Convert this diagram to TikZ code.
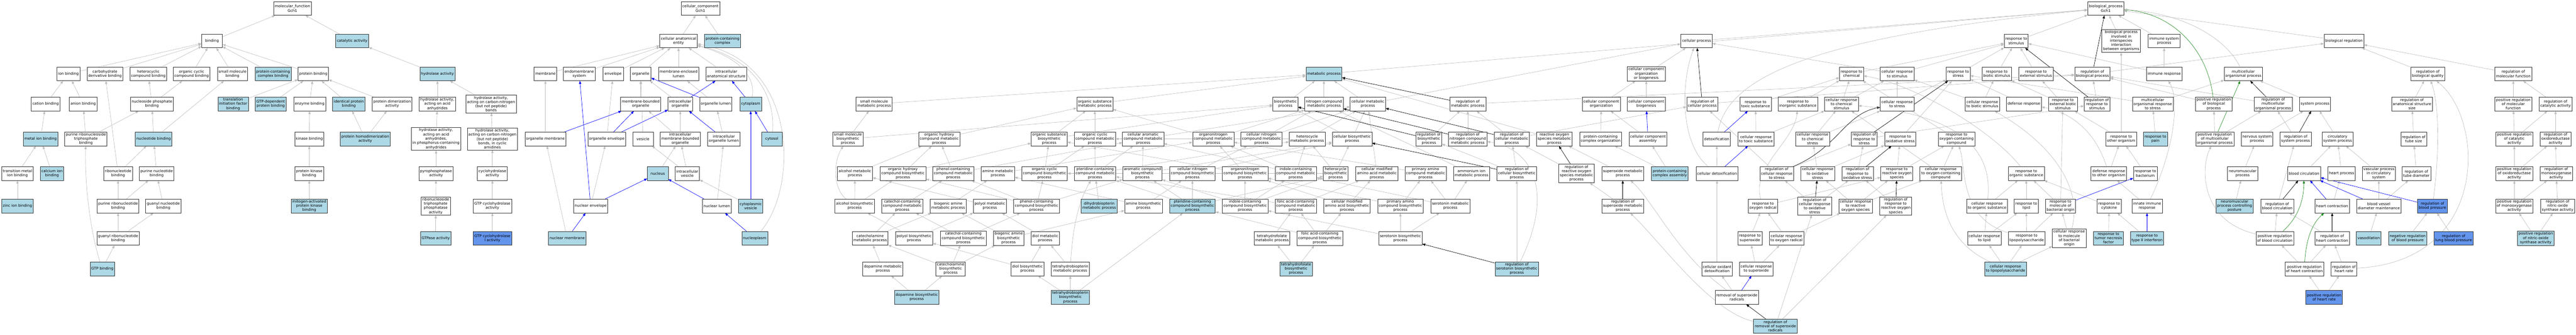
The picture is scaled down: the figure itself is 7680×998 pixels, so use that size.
\documentclass[tikz,border=0pt]{standalone}
\usepackage{fontspec}
\setmainfont{DejaVu Sans}
\usetikzlibrary{arrows.meta,backgrounds}
\definecolor{golight}{RGB}{173,216,230}
\definecolor{godark}{RGB}{100,149,237}
\definecolor{goedge}{RGB}{190,190,190}
\definecolor{gogreen}{RGB}{34,139,34}
\newcommand{\gofont}{\fontsize{11}{12.7}\selectfont}
\tikzset{
  goterm/.style={draw=black!80,fill=white,line width=0.9pt,minimum width=62pt,minimum height=41pt,inner xsep=3.5pt,inner ysep=3pt,align=center,font=\gofont},
  gohit/.style={goterm,fill=golight},
  gokey/.style={goterm,fill=godark},
  isa/.style={draw=goedge,line width=1pt,-{Triangle[length=9pt,width=7pt]}},
  partof/.style={isa,draw=blue},
  regl/.style={isa,draw=black},
  posreg/.style={isa,draw=gogreen}
}
\begin{document}
\begin{tikzpicture}[x=1pt,y=-1pt]
\useasboundingbox (0,0) rectangle (7680,998);
% molecular function
\node[goterm] (mfroot) at (872,25) {molecular\_function\\Gch1};
\node[goterm] (binding) at (632,122) {binding};
\node[gohit] (catalytic) at (1050,122) {catalytic activity};
\node[goterm] (ionbind) at (204,220) {ion binding};
\node[goterm] (carbder) at (313,220) {carbohydrate\\derivative binding};
\node[goterm] (hetcyc) at (442,220) {heterocyclic\\compound binding};
\node[goterm] (orgcyc) at (571,220) {organic cyclic\\compound binding};
\node[goterm] (smallmol) at (693,220) {small molecule\\binding};
\node[gohit] (pccbind) at (814,220) {protein-containing\\complex binding};
\node[goterm] (protbind) at (934,220) {protein binding};
\node[gohit] (hydrolase) at (1304,220) {hydrolase activity};
\node[goterm] (cationb) at (136,310) {cation binding};
\node[goterm] (anionb) at (248,310) {anion binding};
\node[goterm] (nucphos) at (453,310) {nucleoside phosphate\\binding};
\node[gohit] (tifbind) at (695,310) {translation\\initiation factor\\binding};
\node[gohit] (gtpdep) at (807,310) {GTP-dependent\\protein binding};
\node[goterm] (enzbind) at (923,310) {enzyme binding};
\node[gohit] (identb) at (1040,310) {identical protein\\binding};
\node[goterm] (dimer) at (1169,310) {protein dimerization\\activity};
\node[goterm] (hydanh) at (1304,310) {hydrolase activity,\\acting on acid\\anhydrides};
\node[goterm] (hydcn) at (1464,310) {hydrolase activity,\\acting on carbon-nitrogen\\(but not peptide)\\bonds};
\node[gohit] (metalion) at (121,414) {metal ion binding};
\node[goterm] (prtbind) at (256,414) {purine ribonucleoside\\triphosphate\\binding};
\node[gohit] (nucleotide) at (458,414) {nucleotide binding};
\node[goterm] (kinase) at (922,414) {kinase binding};
\node[gohit] (homodimer) at (1089,414) {protein homodimerization\\activity};
\node[goterm] (hydphos) at (1300,414) {hydrolase activity,\\acting on acid\\anhydrides,\\in phosphorus-containing\\anhydrides};
\node[goterm] (hydcyc) at (1468,414) {hydrolase activity,\\acting on carbon-nitrogen\\(but not peptide)\\bonds, in cyclic\\amidines};
\node[goterm] (transmet) at (52,517) {transition metal\\ion binding};
\node[gohit] (calcium) at (155,517) {calcium ion\\binding};
\node[goterm] (ribonuc) at (352,517) {ribonucleotide\\binding};
\node[goterm] (purnuc) at (467,517) {purine nucleotide\\binding};
\node[goterm] (protkin) at (922,517) {protein kinase\\binding};
\node[goterm] (pyrophos) at (1300,517) {pyrophosphatase\\activity};
\node[goterm] (cyclohyd) at (1468,517) {cyclohydrolase\\activity};
\node[gohit] (zinc) at (52,614) {zinc ion binding};
\node[goterm] (purribo) at (352,614) {purine ribonucleotide\\binding};
\node[goterm] (guanyl) at (487,614) {guanyl nucleotide\\binding};
\node[gohit] (mapk) at (922,614) {mitogen-activated\\protein kinase\\binding};
\node[goterm] (rtpase) at (1299,614) {ribonucleoside\\triphosphate\\phosphatase\\activity};
\node[goterm] (gtpch) at (1468,614) {GTP cyclohydrolase\\activity};
\node[goterm] (guanylribo) at (352,710) {guanyl ribonucleotide\\binding};
\node[gohit] (gtpase) at (1299,710) {GTPase activity};
\node[gokey] (gtpchI) at (1468,710) {GTP cyclohydrolase\\I activity};
\node[gohit] (gtpbind) at (305,801) {GTP binding};
% cellular component
\node[goterm] (ccroot) at (2088,25) {cellular\_component\\Gch1};
\node[goterm] (cae) at (2023,122) {cellular anatomical\\entity};
\node[gohit] (pcc) at (2154,122) {protein-containing\\complex};
\node[goterm] (membrane) at (1626,220) {membrane};
\node[goterm] (endomem) at (1727,220) {endomembrane\\system};
\node[goterm] (envelope) at (1828,220) {envelope};
\node[goterm] (organelle) at (1910,220) {organelle};
\node[goterm] (melumen) at (2023,220) {membrane-enclosed\\lumen};
\node[goterm] (ias) at (2165,220) {intracellular\\anatomical structure};
\node[goterm] (mbo) at (1910,310) {membrane-bounded\\organelle};
\node[goterm] (intorg) at (2028,310) {intracellular\\organelle};
\node[goterm] (orglumen) at (2134,310) {organelle lumen};
\node[gohit] (cytoplasm) at (2238,310) {cytoplasm};
\node[goterm] (orgmem) at (1626,414) {organelle membrane};
\node[goterm] (orgenv) at (1809,414) {organelle envelope};
\node[goterm] (vesicle) at (1917,414) {vesicle};
\node[goterm] (imbo) at (2028,414) {intracellular\\membrane-bounded\\organelle};
\node[goterm] (iol) at (2158,414) {intracellular\\organelle lumen};
\node[gohit] (cytosol) at (2301,414) {cytosol};
\node[gohit] (nucleus) at (1961,517) {nucleus};
\node[goterm] (intves) at (2049,517) {intracellular\\vesicle};
\node[goterm] (nucenv) at (1761,614) {nuclear envelope};
\node[goterm] (nuclumen) at (2137,614) {nuclear lumen};
\node[gohit] (cytves) at (2238,614) {cytoplasmic\\vesicle};
\node[gohit] (nucmem) at (1691,710) {nuclear membrane};
\node[gohit] (nucleoplasm) at (2250,710) {nucleoplasm};
% biological process
\node[goterm] (bproot) at (6278,25) {biological\_process\\Gch1};
\node[goterm] (cellproc) at (5058,122) {cellular process};
\node[goterm] (respstim) at (6011,122) {response to\\stimulus};
\node[goterm] (bpinter) at (6324,122) {biological process\\involved in\\interspecies\\interaction\\between organisms};
\node[goterm] (immsys) at (6452,122) {immune system\\process};
\node[goterm] (bioreg) at (6988,122) {biological regulation};
\node[gohit] (metab) at (3947,220) {metabolic process};
\node[goterm] (ccob) at (4908,220) {cellular component\\organization\\or biogenesis};
\node[goterm] (respchem) at (5520,220) {response to\\chemical};
\node[goterm] (cellrespstim) at (5656,220) {cellular response\\to stimulus};
\node[goterm] (respstress) at (5838,220) {response to\\stress};
\node[goterm] (respbiotic) at (5953,220) {response to\\biotic stimulus};
\node[goterm] (respext) at (6070,220) {response to\\external stimulus};
\node[goterm] (regbp) at (6238,220) {regulation of\\biological process};
\node[goterm] (immresp) at (6452,220) {immune response};
\node[goterm] (multiorg) at (6688,220) {multicellular\\organismal process};
\node[goterm] (regbq) at (7238,220) {regulation of\\biological quality};
\node[goterm] (regmf) at (7493,220) {regulation of\\molecular function};
\node[goterm] (smmetab) at (2606,310) {small molecule\\metabolic process};
\node[goterm] (orgsubmetab) at (3264,310) {organic substance\\metabolic process};
\node[goterm] (biosyn) at (3832,310) {biosynthetic\\process};
\node[goterm] (nitmetab) at (3947,310) {nitrogen compound\\metabolic process};
\node[goterm] (cellmetab) at (4078,310) {cellular metabolic\\process};
\node[goterm] (regmetab) at (4376,310) {regulation of\\metabolic process};
\node[goterm] (ccorg) at (4774,310) {cellular component\\organization};
\node[goterm] (ccbio) at (4908,310) {cellular component\\biogenesis};
\node[goterm] (regcellproc) at (5075,310) {regulation of\\cellular process};
\node[goterm] (resptox) at (5234,310) {response to\\toxic substance};
\node[goterm] (respinorg) at (5360,310) {response to\\inorganic substance};
\node[goterm] (cellrespchem) at (5490,310) {cellular response\\to chemical\\stimulus};
\node[goterm] (cellrespstress) at (5656,310) {cellular response\\to stress};
\node[goterm] (cellrespbiotic) at (5910,310) {cellular response\\to biotic stimulus};
\node[goterm] (defense) at (6034,310) {defense response};
\node[goterm] (respextbiotic) at (6150,310) {response to\\external biotic\\stimulus};
\node[goterm] (regrespstim) at (6252,310) {regulation of\\response to\\stimulus};
\node[goterm] (multistress) at (6418,310) {multicellular\\organismal response\\to stress};
\node[goterm] (posregbp) at (6600,310) {positive regulation\\of biological\\process};
\node[goterm] (regmulti) at (6777,310) {regulation of\\multicellular\\organismal process};
\node[goterm] (sysproc) at (6902,310) {system process};
\node[goterm] (reganat) at (7191,310) {regulation of\\anatomical structure\\size};
\node[goterm] (posregmf) at (7493,310) {positive regulation\\of molecular\\function};
\node[goterm] (regcat) at (7619,310) {regulation of\\catalytic activity};
\node[goterm] (smbiosyn) at (2528,414) {small molecule\\biosynthetic\\process};
\node[goterm] (ohcmetab) at (2800,414) {organic hydroxy\\compound metabolic\\process};
\node[goterm] (orgsubbiosyn) at (3128,414) {organic substance\\biosynthetic\\process};
\node[goterm] (orgcycmetab) at (3264,414) {organic cyclic\\compound metabolic\\process};
\node[goterm] (cellarom) at (3408,414) {cellular aromatic\\compound metabolic\\process};
\node[goterm] (orgnitmetab) at (3617,414) {organonitrogen\\compound metabolic\\process};
\node[goterm] (cellnitmetab) at (3761,414) {cellular nitrogen\\compound metabolic\\process};
\node[goterm] (hetmetab) at (3897,414) {heterocycle\\metabolic process};
\node[goterm] (cellbiosyn) at (4031,414) {cellular biosynthetic\\process};
\node[goterm] (regbiosyn) at (4260,414) {regulation of\\biosynthetic\\process};
\node[goterm] (regnitmetab) at (4376,414) {regulation of\\nitrogen compound\\metabolic process};
\node[goterm] (regcellmetab) at (4507,414) {regulation of\\cellular metabolic\\process};
\node[goterm] (rosmetab) at (4634,414) {reactive oxygen\\species metabolic\\process};
\node[goterm] (pccorg) at (4772,414) {protein-containing\\complex organization};
\node[goterm] (ccassem) at (4913,414) {cellular component\\assembly};
\node[goterm] (detox) at (5118,414) {detoxification};
\node[goterm] (cellresptox) at (5235,414) {cellular response\\to toxic substance};
\node[goterm] (cellrespchemstress) at (5404,414) {cellular response\\to chemical\\stress};
\node[goterm] (regrespstress) at (5558,414) {regulation of\\response to\\stress};
\node[goterm] (respoxstress) at (5665,414) {response to\\oxidative stress};
\node[goterm] (respoxy) at (5833,414) {response to\\oxygen-containing\\compound};
\node[goterm] (respother) at (6324,414) {response to\\other organism};
\node[gohit] (resppain) at (6426,414) {response to\\pain};
\node[goterm] (posregmulti) at (6603,414) {positive regulation\\of multicellular\\organismal process};
\node[goterm] (nervsys) at (6729,414) {nervous system\\process};
\node[goterm] (regsys) at (6844,414) {regulation of\\system process};
\node[goterm] (circsys) at (6969,414) {circulatory\\system process};
\node[goterm] (regtube) at (7196,414) {regulation of\\tube size};
\node[goterm] (posregcat) at (7496,414) {positive regulation\\of catalytic\\activity};
\node[goterm] (regoxid) at (7619,414) {regulation of\\oxidoreductase\\activity};
\node[goterm] (alcmetab) at (2549,517) {alcohol metabolic\\process};
\node[goterm] (ohcbiosyn) at (2692,517) {organic hydroxy\\compound biosynthetic\\process};
\node[goterm] (phenmetab) at (2842,517) {phenol-containing\\compound metabolic\\process};
\node[goterm] (aminemetab) at (2975,517) {amine metabolic\\process};
\node[goterm] (orgcycbiosyn) at (3114,517) {organic cyclic\\compound biosynthetic\\process};
\node[goterm] (ptermetab) at (3265,517) {pteridine-containing\\compound metabolic\\process};
\node[goterm] (arombiosyn) at (3406,517) {aromatic compound\\biosynthetic\\process};
\node[goterm] (cellnitbiosyn) at (3555,517) {cellular nitrogen\\compound biosynthetic\\process};
\node[goterm] (orgnitbiosyn) at (3712,517) {organonitrogen\\compound biosynthetic\\process};
\node[goterm] (indolemetab) at (3863,517) {indole-containing\\compound metabolic\\process};
\node[goterm] (hetbiosyn) at (3982,517) {heterocycle\\biosynthetic\\process};
\node[goterm] (cmaametab) at (4105,517) {cellular modified\\amino acid metabolic\\process};
\node[goterm] (primmetab) at (4250,517) {primary amino\\compound metabolic\\process};
\node[goterm] (ammonium) at (4387,517) {ammonium ion\\metabolic process};
\node[goterm] (regcellbiosyn) at (4522,517) {regulation of\\cellular biosynthetic\\process};
\node[goterm] (regros) at (4700,517) {regulation of\\reactive oxygen\\species metabolic\\process};
\node[goterm] (superoxmetab) at (4838,517) {superoxide metabolic\\process};
\node[gohit] (pccassem) at (4978,517) {protein-containing\\complex assembly};
\node[goterm] (celldetox) at (5119,517) {cellular detoxification};
\node[goterm] (regcellrespstress) at (5297,517) {regulation of\\cellular response\\to stress};
\node[goterm] (cellrespoxstress) at (5419,517) {cellular response\\to oxidative\\stress};
\node[goterm] (regrespoxstress) at (5538,517) {regulation of\\response to\\oxidative stress};
\node[goterm] (respros) at (5655,517) {response to\\reactive oxygen\\species};
\node[goterm] (cellrespoxy) at (5786,517) {cellular response\\to oxygen-containing\\compound};
\node[goterm] (resporg) at (6041,517) {response to\\organic substance};
\node[goterm] (defother) at (6287,517) {defense response\\to other organism};
\node[goterm] (respbact) at (6396,517) {response to\\bacterium};
\node[goterm] (neuromusc) at (6686,517) {neuromuscular\\process};
\node[goterm] (bloodcirc) at (6869,517) {blood circulation};
\node[goterm] (heartproc) at (6981,517) {heart process};
\node[goterm] (vascproc) at (7092,517) {vascular process\\in circulatory\\system};
\node[goterm] (regtubediam) at (7204,517) {regulation of\\tube diameter};
\node[goterm] (posregoxid) at (7496,517) {positive regulation\\of oxidoreductase\\activity};
\node[goterm] (regmono) at (7621,517) {regulation of\\monooxygenase\\activity};
\node[goterm] (alcbiosyn) at (2548,614) {alcohol biosynthetic\\process};
\node[goterm] (catecholmetab) at (2690,614) {catechol-containing\\compound metabolic\\process};
\node[goterm] (bioaminemetab) at (2827,614) {biogenic amine\\metabolic process};
\node[goterm] (polyolmetab) at (2951,614) {polyol metabolic\\process};
\node[goterm] (phenbiosyn) at (3090,614) {phenol-containing\\compound biosynthetic\\process};
\node[gohit] (dhbmetab) at (3277,614) {dihydrobiopterin\\metabolic process};
\node[goterm] (aminebiosyn) at (3409,614) {amine biosynthetic\\process};
\node[gohit] (pterbiosyn) at (3555,614) {pteridine-containing\\compound biosynthetic\\process};
\node[goterm] (indolebiosyn) at (3712,614) {indole-containing\\compound biosynthetic\\process};
\node[goterm] (folicmetab) at (3863,614) {folic acid-containing\\compound metabolic\\process};
\node[goterm] (cmaabiosyn) at (4016,614) {cellular modified\\amino acid biosynthetic\\process};
\node[goterm] (primbiosyn) at (4175,614) {primary amino\\compound biosynthetic\\process};
\node[goterm] (serometab) at (4324,614) {serotonin metabolic\\process};
\node[goterm] (regsuperox) at (4838,614) {regulation of\\superoxide metabolic\\process};
\node[goterm] (respoxrad) at (5256,614) {response to\\oxygen radical};
\node[goterm] (regcellrespox) at (5410,614) {regulation of\\cellular response\\to oxidative\\stress};
\node[goterm] (cellrespros) at (5532,614) {cellular response\\to reactive\\oxygen species};
\node[goterm] (regrespros) at (5652,614) {regulation of\\response to\\reactive oxygen\\species};
\node[goterm] (cellresporg) at (5924,614) {cellular response\\to organic substance};
\node[goterm] (resplipid) at (6041,614) {response to\\lipid};
\node[goterm] (respmba) at (6143,614) {response to\\molecule of\\bacterial origin};
\node[goterm] (respcyto) at (6288,614) {response to\\cytokine};
\node[goterm] (innate) at (6401,614) {innate immune\\response};
\node[gohit] (neuroposture) at (6662,614) {neuromuscular\\process controlling\\posture};
\node[goterm] (regbloodcirc) at (6789,614) {regulation of\\blood circulation};
\node[goterm] (heartcontr) at (6953,614) {heart contraction};
\node[goterm] (bvdm) at (7092,614) {blood vessel\\diameter maintenance};
\node[gokey] (regbloodpress) at (7252,614) {regulation of\\blood pressure};
\node[goterm] (posregmono) at (7496,614) {positive regulation\\of monooxygenase\\activity};
\node[goterm] (regnos) at (7625,614) {regulation of\\nitric-oxide\\synthase activity};
\node[goterm] (catamine) at (2594,710) {catecholamine\\metabolic process};
\node[goterm] (polyolbiosyn) at (2725,710) {polyol biosynthetic\\process};
\node[goterm] (catecholbiosyn) at (2872,710) {catechol-containing\\compound biosynthetic\\process};
\node[goterm] (bioaminebiosyn) at (3007,710) {biogenic amine\\biosynthetic\\process};
\node[goterm] (diolmetab) at (3116,710) {diol metabolic\\process};
\node[goterm] (thfmetab) at (3792,710) {tetrahydrofolate\\metabolic process};
\node[goterm] (folicbiosyn) at (3935,710) {folic acid-containing\\compound biosynthetic\\process};
\node[goterm] (serobiosyn) at (4175,710) {serotonin biosynthetic\\process};
\node[goterm] (respsuperox) at (5217,710) {response to\\superoxide};
\node[goterm] (cellrespoxrad) at (5326,710) {cellular response\\to oxygen radical};
\node[goterm] (cellresplipid) at (5916,710) {cellular response\\to lipid};
\node[goterm] (resplps) at (6042,710) {response to\\lipopolysaccharide};
\node[goterm] (cellrespmba) at (6169,710) {cellular response\\to molecule\\of bacterial\\origin};
\node[gohit] (resptnf) at (6286,710) {response to\\tumor necrosis\\factor};
\node[gohit] (respifn) at (6401,710) {response to\\type II interferon};
\node[goterm] (posregbloodcirc) at (6782,710) {positive regulation\\of blood circulation};
\node[goterm] (regheartcontr) at (6953,710) {regulation of\\heart contraction};
\node[gohit] (vasodil) at (7062,710) {vasodilation};
\node[gohit] (negregbp) at (7178,710) {negative regulation\\of blood pressure};
\node[gokey] (reglungbp) at (7315,710) {regulation of\\lung blood pressure};
\node[gohit] (posregnos) at (7560,710) {positive regulation\\of nitric-oxide\\synthase activity};
\node[goterm] (dopmetab) at (2632,801) {dopamine metabolic\\process};
\node[goterm] (catbiosyn) at (2834,801) {catecholamine\\biosynthetic\\process};
\node[goterm] (diolbiosyn) at (3063,801) {diol biosynthetic\\process};
\node[goterm] (thbmetab) at (3191,801) {tetrahydrobiopterin\\metabolic process};
\node[gohit] (thfbiosyn) at (3864,801) {tetrahydrofolate\\biosynthetic\\process};
\node[gohit] (regserobiosyn) at (4522,801) {regulation of\\serotonin biosynthetic\\process};
\node[goterm] (celloxdetox) at (5119,801) {cellular oxidant\\detoxification};
\node[goterm] (cellrespsuperox) at (5236,801) {cellular response\\to superoxide};
\node[gohit] (cellresplps) at (5979,801) {cellular response\\to lipopolysaccharide};
\node[goterm] (posregheartcontr) at (6870,801) {positive regulation\\of heart contraction};
\node[goterm] (regheartrate) at (6988,801) {regulation of\\heart rate};
\node[gohit] (dopbiosyn) at (2733,886) {dopamine biosynthetic\\process};
\node[gohit] (thbbiosyn) at (3191,886) {tetrahydrobiopterin\\biosynthetic\\process};
\node[goterm] (removsuperox) at (5178,886) {removal of superoxide\\radicals};
\node[gokey] (posregheartrate) at (6929,886) {positive regulation\\of heart rate};
\node[gohit] (regremov) at (5293,972) {regulation of\\removal of superoxide\\radicals};
\begin{pgfonlayer}{background}
% molecular function edges
\foreach \a/\b in {binding/mfroot,catalytic/mfroot,ionbind/binding,carbder/binding,hetcyc/binding,orgcyc/binding,smallmol/binding,pccbind/binding,protbind/binding,hydrolase/catalytic,cationb/ionbind,anionb/ionbind,nucphos/hetcyc,nucphos/orgcyc,tifbind/protbind,gtpdep/protbind,enzbind/protbind,identb/protbind,dimer/protbind,hydanh/hydrolase,hydcn/hydrolase,metalion/cationb,prtbind/anionb,prtbind/nucphos,nucleotide/nucphos,nucleotide/smallmol,kinase/enzbind,homodimer/identb,homodimer/dimer,hydphos/hydanh,hydcyc/hydcn,transmet/metalion,calcium/metalion,ribonuc/carbder,ribonuc/nucleotide,purnuc/nucleotide,protkin/kinase,pyrophos/hydphos,cyclohyd/hydcyc,zinc/transmet,purribo/ribonuc,purribo/purnuc,guanyl/purnuc,mapk/protkin,rtpase/pyrophos,gtpch/cyclohyd,guanylribo/purribo,guanylribo/guanyl,gtpase/rtpase,gtpchI/gtpch,gtpbind/guanylribo}
  \draw[isa] (\a) -- (\b);
\draw[isa] (gtpbind) .. controls (272,700) and (252,560) .. (prtbind);
% cellular component edges
\foreach \a/\b in {cae/ccroot,pcc/ccroot,membrane/cae,endomem/cae,envelope/cae,organelle/cae,melumen/cae,ias/cae,mbo/organelle,intorg/organelle,orglumen/melumen,orgmem/membrane,orgenv/envelope,vesicle/organelle,imbo/mbo,imbo/intorg,iol/orglumen,nucleus/imbo,intves/vesicle,intves/imbo,nucenv/orgenv,nuclumen/iol,cytves/intves,nucmem/orgmem}
  \draw[isa] (\a) -- (\b);
\foreach \a/\b in {intorg/ias,orglumen/organelle,cytoplasm/ias,orgmem/mbo,orgenv/mbo,orgenv/intorg,iol/intorg,cytosol/cytoplasm,nucenv/endomem,nucenv/nucleus,nuclumen/nucleus,cytves/cytoplasm,nucmem/nucenv,nucleoplasm/nuclumen}
  \draw[partof] (\a) -- (\b);
\draw[isa] (cytoplasm) .. controls (2255,230) and (2200,168) .. (cae);
\draw[isa] (cytosol) .. controls (2312,300) and (2262,178) .. (cae);
\draw[isa] (nucleoplasm) .. controls (2380,560) and (2380,180) .. (cae);
% biological process edges
\foreach \a/\b in {metab/bproot,cellproc/bproot,respstim/bproot,bpinter/bproot,immsys/bproot,bioreg/bproot,smmetab/metab,nitmetab/metab,cellmetab/metab,orgsubmetab/metab,biosyn/metab,cellmetab/cellproc,smbiosyn/smmetab,smbiosyn/biosyn,alcmetab/ohcmetab,alcbiosyn/alcmetab,alcbiosyn/ohcbiosyn,catamine/catecholmetab,catamine/bioaminemetab,ohcmetab/orgsubmetab,orgsubbiosyn/orgsubmetab,orgsubbiosyn/biosyn,ohcbiosyn/ohcmetab,ohcbiosyn/orgsubbiosyn,phenmetab/ohcmetab,phenmetab/cellarom,aminemetab/orgnitmetab,orgcycbiosyn/orgsubbiosyn,orgcycbiosyn/orgcycmetab,catecholmetab/phenmetab,bioaminemetab/aminemetab,polyolmetab/alcmetab,phenbiosyn/phenmetab,phenbiosyn/orgcycbiosyn,phenbiosyn/ohcbiosyn,phenbiosyn/arombiosyn,polyolbiosyn/polyolmetab,polyolbiosyn/alcbiosyn,catecholbiosyn/catecholmetab,catecholbiosyn/phenbiosyn,bioaminebiosyn/bioaminemetab,bioaminebiosyn/aminebiosyn,diolmetab/polyolmetab,dopmetab/catamine,catbiosyn/catamine,catbiosyn/catecholbiosyn,catbiosyn/bioaminebiosyn,diolbiosyn/diolmetab,diolbiosyn/polyolbiosyn,thbmetab/diolmetab,dopbiosyn/dopmetab,dopbiosyn/catbiosyn,thbbiosyn/thbmetab,thbbiosyn/diolbiosyn,thbbiosyn/pterbiosyn}
  \draw[isa] (\a) -- (\b);
\foreach \a/\b in {orgcycmetab/orgsubmetab,cellarom/cellmetab,orgnitmetab/orgsubmetab,orgnitmetab/nitmetab,cellnitmetab/nitmetab,cellnitmetab/cellmetab,ptermetab/orgcycmetab,ptermetab/cellarom,ptermetab/hetmetab,arombiosyn/cellarom,arombiosyn/cellbiosyn,cellnitbiosyn/cellnitmetab,cellnitbiosyn/cellbiosyn,orgnitbiosyn/orgnitmetab,orgnitbiosyn/orgsubbiosyn,indolemetab/hetmetab,indolemetab/cellarom,indolemetab/orgnitmetab,dhbmetab/ptermetab,aminebiosyn/aminemetab,aminebiosyn/cellnitbiosyn,pterbiosyn/ptermetab,pterbiosyn/cellnitbiosyn,pterbiosyn/hetbiosyn,pterbiosyn/arombiosyn,indolebiosyn/indolemetab,indolebiosyn/orgnitbiosyn,indolebiosyn/hetbiosyn,indolebiosyn/arombiosyn,folicmetab/cmaametab,folicmetab/ptermetab,thfmetab/folicmetab,thfbiosyn/thfmetab,thfbiosyn/folicbiosyn,hetmetab/orgcycmetab,hetmetab/cellmetab,cellbiosyn/cellmetab,cellbiosyn/biosyn,hetbiosyn/hetmetab,hetbiosyn/cellbiosyn,hetbiosyn/orgcycbiosyn,cmaametab/cellmetab,primmetab/orgnitmetab,ammonium/nitmetab,cmaabiosyn/cmaametab,cmaabiosyn/orgnitbiosyn,primbiosyn/primmetab,primbiosyn/orgnitbiosyn,serometab/primmetab,serometab/ammonium,serometab/indolemetab,folicbiosyn/folicmetab,folicbiosyn/cmaabiosyn,folicbiosyn/pterbiosyn,serobiosyn/primbiosyn,serobiosyn/serometab,serobiosyn/indolebiosyn}
  \draw[isa] (\a) -- (\b);
\foreach \a/\b in {regserobiosyn/regcellbiosyn,regmetab/regbp,regbiosyn/regmetab,regnitmetab/regmetab,regcellmetab/regmetab,regcellmetab/regcellproc,regcellbiosyn/regcellmetab,regcellbiosyn/regbiosyn,ccob/cellproc,ccorg/ccob,ccbio/ccob,regcellproc/regbp,rosmetab/metab,pccorg/ccorg,ccassem/ccorg,regros/regcellmetab,superoxmetab/rosmetab,pccassem/pccorg,pccassem/ccassem,celldetox/detox,regsuperox/regros,celloxdetox/celldetox,removsuperox/celloxdetox,regremov/regcellrespox,regremov/regrespros}
  \draw[isa] (\a) -- (\b);
\foreach \a/\b in {respchem/respstim,cellrespstim/cellproc,cellrespstim/respstim,resptox/respchem,respinorg/respchem,cellrespchem/respchem,cellrespchem/cellrespstim,cellrespstress/cellrespstim,cellrespstress/respstress,cellresptox/resptox,cellresptox/cellrespchem,cellrespchemstress/cellrespchem,cellrespchemstress/cellrespstress,regrespstress/regrespstim,respoxstress/respstress,regcellrespstress/regrespstress,regcellrespstress/regcellproc,cellrespoxstress/cellrespchemstress,cellrespoxstress/respoxstress,regrespoxstress/regrespstress,respros/respoxstress,respros/respoxy,cellrespoxy/respoxy,cellrespoxy/cellrespchem,respoxrad/respros,regcellrespox/regcellrespstress,regcellrespox/regrespoxstress,cellrespros/cellrespoxstress,cellrespros/respros,cellrespros/cellrespoxy,regrespros/regrespoxstress,respsuperox/respoxrad,cellrespoxrad/respoxrad,cellrespoxrad/cellrespros,cellrespsuperox/respsuperox,cellrespsuperox/cellrespoxrad}
  \draw[isa] (\a) -- (\b);
\foreach \a/\b in {respstress/respstim,respbiotic/respstim,respext/respstim,regbp/bioreg,cellrespbiotic/respbiotic,cellrespbiotic/cellrespstim,defense/respstress,respextbiotic/respext,respextbiotic/respbiotic,regrespstim/regbp,multistress/respstress,multistress/multiorg,respoxy/respchem,respother/respextbiotic,respother/bpinter,resppain/multistress,defother/respother,respbact/respother,cellresporg/resporg,resplipid/resporg,respmba/resporg,respmba/respextbiotic,respcyto/resporg,innate/defother,cellresplipid/resplipid,cellresplipid/cellresporg,resplps/respmba,resplps/resplipid,cellrespmba/respmba,resptnf/respcyto,respifn/respcyto,cellresplps/cellresplipid,cellresplps/resplps,cellresplps/cellrespmba,immresp/immsys,immresp/respstim}
  \draw[isa] (\a) -- (\b);
\foreach \a/\b in {posregbp/regbp,regmulti/regbp,sysproc/multiorg,posregmulti/posregbp,posregmulti/regmulti,nervsys/sysproc,regsys/regmulti,circsys/sysproc,neuromusc/nervsys,bloodcirc/circsys,heartproc/circsys,neuroposture/neuromusc,regbloodcirc/regsys,heartcontr/heartproc,bvdm/vascproc,bvdm/regtubediam,posregbloodcirc/regbloodcirc,regheartcontr/regbloodcirc,posregheartcontr/posregbloodcirc,posregheartcontr/regheartcontr,regheartrate/regheartcontr,posregheartrate/posregheartcontr,posregheartrate/regheartrate,regbq/bioreg,regmf/bioreg,reganat/regbq,posregmf/regmf,regcat/regmf,regtube/reganat,posregcat/posregmf,posregcat/regcat,regoxid/regcat,vascproc/circsys,regtubediam/regtube,posregoxid/posregcat,posregoxid/regoxid,regmono/regoxid,posregmono/posregoxid,posregmono/regmono,regnos/regmono,vasodil/bvdm,negregbp/regbloodpress,reglungbp/regbloodpress,posregnos/posregmono,posregnos/regnos}
  \draw[isa] (\a) -- (\b);
\foreach \a/\b in {ccassem/ccbio,celldetox/cellresptox,detox/resptox,removsuperox/cellrespsuperox,respmba/respbact,respifn/innate,heartcontr/bloodcirc,bvdm/bloodcirc,regbloodpress/bloodcirc}
  \draw[partof] (\a) -- (\b);
\foreach \a/\b in {regmetab/metab,regbiosyn/biosyn,regnitmetab/nitmetab,regcellmetab/cellmetab,regcellbiosyn/cellbiosyn,regserobiosyn/serobiosyn,regcellproc/cellproc,regros/rosmetab,regsuperox/superoxmetab,regremov/removsuperox,regrespstress/respstress,regrespoxstress/respoxstress,regcellrespox/cellrespoxstress,regrespros/respros,regrespstim/respstim,regbp/bproot,regmulti/multiorg,regsys/sysproc,regbloodcirc/bloodcirc,regheartcontr/heartcontr}
  \draw[regl] (\a) -- (\b);
\draw[posreg] (posregmulti) -- (multiorg);
\draw[posreg] (posregbp) .. controls (6582,150) and (6480,40) .. (bproot);
\draw[posreg] (posregbloodcirc) .. controls (6850,650) and (6868,600) .. (bloodcirc);
\draw[posreg] (posregheartcontr) .. controls (6876,700) and (6900,660) .. (heartcontr);
\draw[regl] (regcellrespstress) .. controls (5480,440) and (5500,340) .. (cellrespstress);
\draw[isa] (multiorg) .. controls (6640,120) and (6520,40) .. (bproot);
\draw[isa] (detox) .. controls (5150,230) and (5400,110) .. (bproot);
\draw[isa] (celldetox) .. controls (5010,430) and (5010,250) .. (cellproc);
\draw[isa] (removsuperox) .. controls (5000,760) and (4930,600) .. (superoxmetab);
\draw[isa] (regremov) .. controls (5100,930) and (4950,720) .. (regsuperox);
\draw[isa] (respoxrad) .. controls (5220,500) and (5350,420) .. (respinorg);
\draw[isa] (thbmetab) .. controls (3198,680) and (3215,600) .. (ptermetab);
\draw[isa] (alcbiosyn) .. controls (2482,560) and (2485,480) .. (smbiosyn);
\draw[isa] (regserobiosyn) .. controls (4640,560) and (4560,440) .. (regnitmetab);
\draw[isa] (cellresplps) .. controls (5800,720) and (5790,600) .. (cellrespoxy);
\draw[isa] (resplps) .. controls (5840,650) and (5862,500) .. (respoxy);
\draw[isa] (cellrespmba) .. controls (6210,560) and (6120,430) .. (cellrespbiotic);
\draw[isa] (cellresporg) .. controls (5945,420) and (5800,340) .. (cellrespchem);
\draw[isa] (resporg) .. controls (5930,380) and (5700,250) .. (respchem);
\draw[isa] (defother) .. controls (6240,370) and (6150,330) .. (defense);
\draw[isa] (innate) .. controls (6480,450) and (6500,300) .. (immresp);
\draw[isa] (posregbloodcirc) .. controls (6560,660) and (6560,500) .. (posregmulti);
\draw[isa] (regheartrate) .. controls (7420,780) and (7410,360) .. (regbq);
\draw[isa] (regbloodpress) .. controls (7275,440) and (7270,300) .. (regbq);
\end{pgfonlayer}
\end{tikzpicture}
\end{document}
